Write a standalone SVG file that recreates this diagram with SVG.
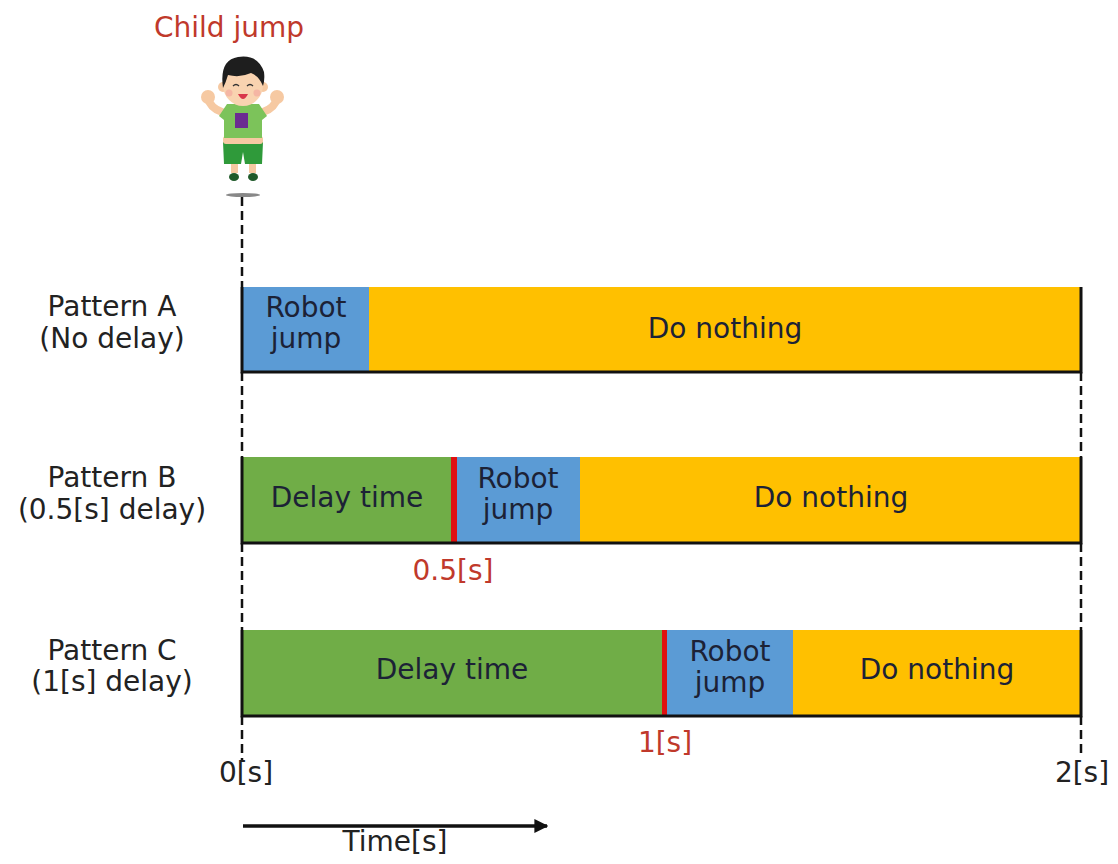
<svg xmlns="http://www.w3.org/2000/svg" width="1118" height="864" viewBox="0 0 1118 864">
  <defs>
    <style>
      .lbl { font-family: "DejaVu Sans", "Noto Sans", sans-serif; font-size: 28px; fill: #222; text-anchor: middle; }
      .in { font-family: "DejaVu Sans", "Noto Sans", sans-serif; font-size: 28px; fill: #1c2236; text-anchor: middle; }
      .red { font-family: "DejaVu Sans", "Noto Sans", sans-serif; font-size: 28px; fill: #c0392b; text-anchor: middle; }
      .blue { fill: #5b9bd5; }
      .yel { fill: #ffc000; }
      .grn { fill: #70ad47; }
      .mark { fill: #e01010; }
      .edge { stroke: #111; stroke-width: 3; fill: none; }
      .dash { stroke: #111; stroke-width: 2.5; stroke-dasharray: 9 5; fill: none; }
    </style>
    <marker id="arrow" viewBox="0 0 10 10" refX="9" refY="5" markerWidth="4" markerHeight="4" orient="auto">
      <path d="M0,0 L10,5 L0,10 z" fill="#111"/>
    </marker>
  </defs>
  <rect width="1118" height="864" fill="#fff"/>

  <!-- child figure -->
  <g id="child">
    <text class="red" x="229" y="37">Child jump</text>
    <ellipse cx="243" cy="195" rx="17" ry="2" fill="#888"/>
    <!-- arms -->
    <path d="M222,112 Q210,108 208,98" stroke="#f6c9a2" stroke-width="8" fill="none" stroke-linecap="round"/>
    <path d="M263,112 Q275,108 277,98" stroke="#f6c9a2" stroke-width="8" fill="none" stroke-linecap="round"/>
    <circle cx="208" cy="97" r="7" fill="#f6c9a2"/>
    <circle cx="277" cy="97" r="7" fill="#f6c9a2"/>
    <!-- legs and shoes -->
    <rect x="231" y="160" width="7" height="13" fill="#f6c9a2"/>
    <rect x="249" y="160" width="7" height="13" fill="#f6c9a2"/>
    <ellipse cx="234" cy="177" rx="5" ry="4" fill="#1f5a2a"/>
    <ellipse cx="253" cy="177" rx="5" ry="4" fill="#1f5a2a"/>
    <!-- shorts -->
    <path d="M223,142 L263,142 L262,164 L245,164 L243,152 L241,164 L224,164 z" fill="#2f9a3a"/>
    <!-- belly -->
    <rect x="223" y="136" width="40" height="8" rx="3" fill="#f6c9a2"/>
    <!-- shirt -->
    <path d="M227,104 L259,104 L267,116 L262,120 L262,138 L224,138 L224,120 L219,116 z" fill="#7cc35a"/>
    <rect x="235" y="113" width="13" height="15" fill="#6b2c91"/>
    <!-- head -->
    <circle cx="223" cy="87" r="5" fill="#f6c9a2"/>
    <circle cx="263" cy="87" r="5" fill="#f6c9a2"/>
    <ellipse cx="243" cy="85" rx="20" ry="21" fill="#f9d3b0"/>
    <path d="M223,88 Q219,60 238,57 Q258,54 264,72 Q265,80 263,86 Q259,76 251,73 Q240,78 228,75 Q226,82 223,88 z" fill="#1e1e1e"/>
    <path d="M233,86 q3,-3 6,0 M247,86 q3,-3 6,0" stroke="#333" stroke-width="1.3" fill="none"/>
    <path d="M238,94 Q243,104 248,94 z" fill="#d9364a"/>
    <circle cx="229" cy="93" r="3.5" fill="#f3a9a0" opacity="0.7"/>
    <circle cx="257" cy="93" r="3.5" fill="#f3a9a0" opacity="0.7"/>
  </g>

  <!-- row labels -->
  <g id="label-a">
    <text class="lbl" x="112" y="316">Pattern A</text>
    <text class="lbl" x="112" y="348">(No delay)</text>
  </g>
  <g id="label-b">
    <text class="lbl" x="112" y="487">Pattern B</text>
    <text class="lbl" x="112" y="519">(0.5[s] delay)</text>
  </g>
  <g id="label-c">
    <text class="lbl" x="112" y="660">Pattern C</text>
    <text class="lbl" x="112" y="691">(1[s] delay)</text>
  </g>

  <!-- pattern A -->
  <g id="bar-a">
    <rect class="blue" x="242" y="287" width="127" height="85"/>
    <rect class="yel" x="369" y="287" width="712" height="85"/>
    <text class="in" x="306" y="317">Robot</text>
    <text class="in" x="306" y="348">jump</text>
    <text class="in" x="725" y="338">Do nothing</text>
    <path class="edge" d="M242,287 V372 H1081 V287"/>
  </g>

  <!-- pattern B -->
  <g id="bar-b">
    <rect class="grn" x="242" y="457" width="214" height="86"/>
    <rect class="blue" x="456" y="457" width="124" height="86"/>
    <rect class="yel" x="580" y="457" width="501" height="86"/>
    <rect class="mark" x="451" y="457" width="6" height="86"/>
    <text class="in" x="347" y="507">Delay time</text>
    <text class="in" x="518" y="488">Robot</text>
    <text class="in" x="518" y="519">jump</text>
    <text class="in" x="831" y="507">Do nothing</text>
    <path class="edge" d="M242,457 V543 H1081 V457"/>
    <text class="red" x="453" y="580">0.5[s]</text>
  </g>

  <!-- pattern C -->
  <g id="bar-c">
    <rect class="grn" x="242" y="630" width="424" height="86"/>
    <rect class="blue" x="666" y="630" width="127" height="86"/>
    <rect class="yel" x="793" y="630" width="288" height="86"/>
    <rect class="mark" x="662" y="630" width="5" height="86"/>
    <text class="in" x="452" y="679">Delay time</text>
    <text class="in" x="730" y="661">Robot</text>
    <text class="in" x="730" y="692">jump</text>
    <text class="in" x="937" y="679">Do nothing</text>
    <path class="edge" d="M242,630 V716 H1081 V630"/>
    <text class="red" x="665" y="752">1[s]</text>
  </g>

  <!-- guide lines, axis and time arrow -->
  <g id="connectors">
    <path class="dash" d="M242,197 V287 M242,372 V457 M242,543 V630 M242,716 V760"/>
    <path class="dash" d="M1081,372 V457 M1081,543 V630 M1081,716 V758"/>
    <line x1="243" y1="826" x2="547" y2="826" stroke="#111" stroke-width="3.5" marker-end="url(#arrow)"/>
  </g>
  <g id="axis-labels">
    <text class="lbl" x="246" y="782">0[s]</text>
    <text class="lbl" x="1082" y="782">2[s]</text>
    <text class="lbl" x="395" y="851">Time[s]</text>
  </g>
</svg>
